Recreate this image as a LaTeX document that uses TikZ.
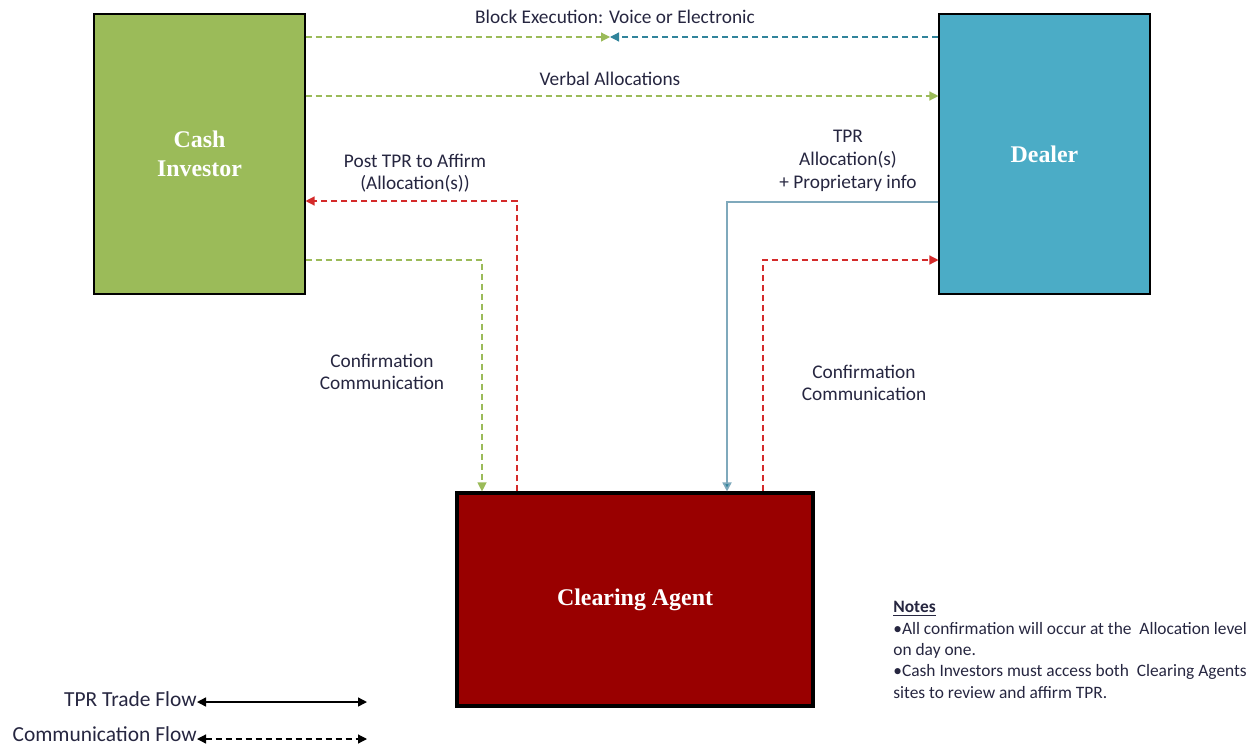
\documentclass[tikz,border=0pt]{standalone}
\usepackage{fontspec}
\setmainfont{Carlito}
\newfontfamily\boxfont{Liberation Serif}
\usetikzlibrary{positioning,arrows.meta}

\definecolor{invgreen}{HTML}{9BBB59}
\definecolor{dealblue}{HTML}{4BACC6}
\definecolor{tprblue}{HTML}{31849B}
\definecolor{linkblue}{HTML}{7FA9BC}
\definecolor{agentred}{HTML}{990000}
\definecolor{commred}{HTML}{D42A2A}
\definecolor{labeltext}{HTML}{262640}

\begin{document}
\begin{tikzpicture}[
        >={Triangle[length=1.8mm,width=1.8mm]},
        party/.style={rectangle, draw=black, line width=0.6pt, minimum width=4.22cm, minimum height=5.6cm, text=white, font=\boxfont\bfseries\fontsize{13.6}{16.5}\selectfont, align=center},
        comm/.style={->, dash pattern=on 1.2mm off 0.8mm, line width=0.7pt},
        trade/.style={->, line width=0.8pt},
        lbl/.style={text=labeltext, font=\fontsize{11}{12.6}\selectfont, align=center}
    ]
    \useasboundingbox (0,0) rectangle (25.2,-14.98);

    % parties
    \node[party, fill=invgreen] (ci) at (3.99,-3.08) {Cash\\Investor};
    \node[party, fill=dealblue] (dealer) at (20.89,-3.08) {Dealer};
    \node[party, fill=agentred, line width=1.8pt, minimum width=7.12cm, minimum height=4.26cm] (ca) at (12.7,-11.99) {Clearing Agent};

    % helper points
    \coordinate (mid) at (12.2,-0.74);
    \coordinate (verbal) at (0,-1.92);
    \coordinate (post) at (10.34,-4.02);
    \coordinate (cigreen) at (9.64,-5.2);
    \coordinate (tpr) at (14.54,-4.04);
    \coordinate (dlred) at (15.26,-5.2);

    % top flows
    \draw[comm, invgreen] (ci.east |- mid) -- (mid);
    \draw[comm, tprblue] (dealer.west |- mid) -- (mid);
    \draw[comm, invgreen] (ci.east |- verbal) -- (dealer.west |- verbal);

    % flows to and from the clearing agent
    \draw[comm, commred] (ca.north -| post) |- (ci.east |- post);
    \draw[comm, invgreen] (ci.east |- cigreen) -| (ca.north -| cigreen);
    \draw[trade, linkblue, line width=1pt, -{Triangle[length=1.8mm,width=1.8mm,fill=tprblue]}] (dealer.west |- tpr) -| (ca.north -| tpr);
    \draw[comm, commred] (ca.north -| dlred) |- (dealer.west |- dlred);

    % labels
    \node[lbl] (lblock) at (12.3,-0.34) {Block Execution: Voice or Electronic};
    \node[lbl] (lverbal) at (12.2,-1.58) {Verbal Allocations};
    \node[lbl] (lpost) at (8.3,-3.46) {Post TPR to Affirm\\(Allocation(s))};
    \node[lbl, font=\fontsize{11}{13}\selectfont] (ltpr) at (16.96,-3.22) {TPR\\Allocation(s)\\+ Proprietary info};
    \node[lbl] (lconfl) at (7.64,-7.44) {Confirmation\\Communication};
    \node[lbl] (lconfr) at (17.28,-7.66) {Confirmation\\Communication};

    % notes
    \node[lbl, anchor=north west, align=left, inner sep=0pt, font=\fontsize{9.9}{12.2}\selectfont] (notes) at (17.86,-12.02)
        {\underline{\textbf{Notes}}\\
         •All confirmation will occur at the\ \ Allocation level\\
         on day one.\\
         •Cash Investors must access both\ \ Clearing Agents\\
         sites to review and affirm TPR.};

    % legend
    \coordinate (tfa) at (3.94,-14.04);
    \coordinate (tfb) at (7.34,-14.04);
    \coordinate (cfa) at (3.94,-14.78);
    \coordinate (cfb) at (7.34,-14.78);
    \node[lbl, anchor=east, inner sep=0pt, font=\fontsize{12.2}{14}\selectfont] (ltrade) at ([yshift=0.06cm]tfa) {TPR Trade Flow};
    \node[lbl, anchor=east, inner sep=0pt, font=\fontsize{12.2}{14}\selectfont] (lcomm) at ([yshift=0.1cm]cfa) {Communication Flow};
    \draw[trade, black, <->] (tfa) -- (tfb);
    \draw[comm, black, <->] (cfa) -- (cfb);
\end{tikzpicture}
\end{document}
